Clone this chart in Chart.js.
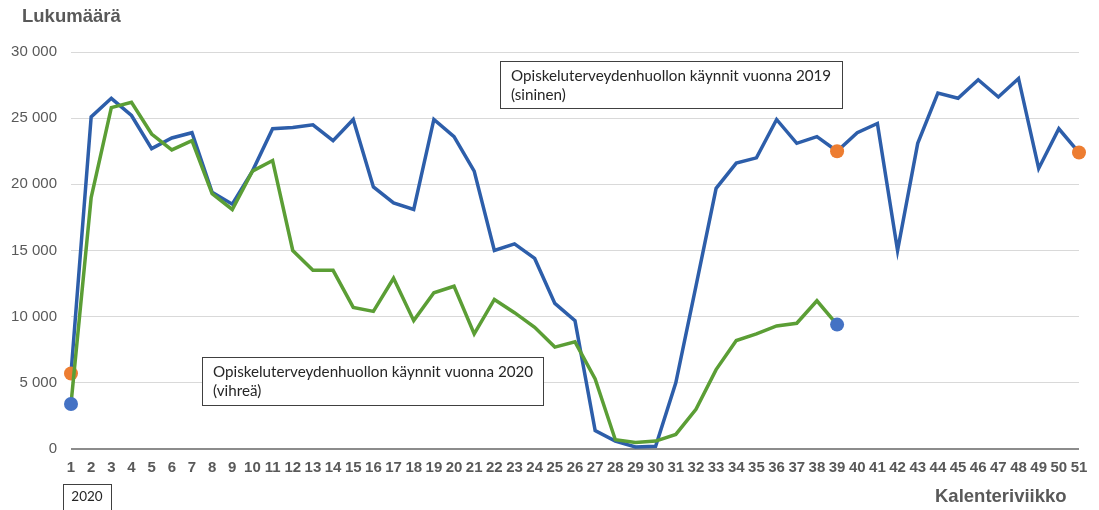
<!DOCTYPE html>
<html>
<head>
<meta charset="utf-8">
<script src="https://cdn.jsdelivr.net/npm/chart.js@4/dist/chart.umd.min.js"></script>
<style>
html,body{margin:0;padding:0;background:#fff;}
#wrap{width:1099px;height:510px;position:relative;}
</style>
</head>
<body>
<div id="wrap"><canvas id="c" width="1099" height="510"></canvas></div>
<script>
const weeks = Array.from({length: 51}, (_, i) => String(i + 1));
const visits2019 = [5700, 25100, 26500, 25200, 22700, 23500, 23900, 19400, 18500, 21000,
  24200, 24300, 24500, 23300, 24900, 19800, 18600, 18100, 24900, 23600,
  21000, 15000, 15500, 14400, 11000, 9700, 1400, 600, 150, 200,
  5000, 12300, 19700, 21600, 22000, 24900, 23100, 23600, 22500, 23900,
  24600, 15000, 23100, 26900, 26500, 27900, 26600, 28000, 21200, 24200, 22400];
const visits2020 = [3400, 19000, 25800, 26200, 23800, 22600, 23300, 19300, 18100, 21000,
  21800, 15000, 13500, 13500, 10700, 10400, 12900, 9700, 11800, 12300,
  8700, 11300, 10300, 9200, 7700, 8100, 5300, 700, 500, 600,
  1100, 3000, 6000, 8200, 8700, 9300, 9500, 11200, 9400];
const marked2019 = [1, 39, 51];
const marked2020 = [1, 39];
const yTicks = [0, 5000, 10000, 15000, 20000, 25000, 30000];
const yTitle = "Lukumäärä";
const xTitle = "Kalenteriviikko";
const yearLabel = "2020";
const note2019 = ["Opiskeluterveydenhuollon käynnit vuonna 2019", "(sininen)"];
const note2020 = ["Opiskeluterveydenhuollon käynnit vuonna 2020", "(vihreä)"];

const GREY = '#595959';
const fmt = v => String(v).replace(/\B(?=(\d{3})+(?!\d))/g, ' ');

function markRadius(list) {
  return ctx => list.includes(ctx.dataIndex + 1) ? 7 : 0;
}

const extras = {
  id: 'extras',
  afterDraw(chart) {
    const c = chart.ctx;
    c.save();
    c.fillStyle = GREY;
    c.textBaseline = 'middle';
    c.font = 'bold 18.5px "Liberation Sans", Arial, sans-serif';
    c.textAlign = 'left';
    c.fillText(yTitle, 22, 17);
    c.font = 'bold 18.5px "Liberation Sans", Arial, sans-serif';
    c.fillText(xTitle, 935, 497);

    function box(x, y, w, h, lines) {
      c.fillStyle = '#fff';
      c.fillRect(x, y, w, h);
      c.strokeStyle = '#404040';
      c.lineWidth = 1;
      c.strokeRect(x + 0.5, y + 0.5, w, h);
      c.fillStyle = '#262626';
      c.font = '15.2px Lato, "Open Sans", sans-serif';
      c.textAlign = 'left';
      lines.forEach((t, i) => c.fillText(t, x + 11, y + 15 + i * 19));
    }
    box(500, 61, 342, 47, note2019);
    box(202, 357, 341, 48, note2020);

    c.strokeStyle = '#404040';
    c.lineWidth = 1;
    c.strokeRect(63.5, 484.5, 48, 30);
    c.fillStyle = '#262626';
    c.font = '13.5px Lato, "Open Sans", sans-serif';
    c.textAlign = 'center';
    c.fillText(yearLabel, 87, 497);
    c.restore();
  }
};

new Chart(document.getElementById('c'), {
  type: 'line',
  data: {
    labels: weeks,
    datasets: [
      {
        label: '2019',
        data: visits2019,
        borderColor: '#2D5EAA',
        borderWidth: 3.5,
        tension: 0,
        pointRadius: markRadius(marked2019),
        pointBackgroundColor: '#ED7D31',
        pointBorderWidth: 0,
        pointHoverRadius: 0,
        order: 2
      },
      {
        label: '2020',
        data: visits2020,
        borderColor: '#5B9E35',
        borderWidth: 3.5,
        tension: 0,
        pointRadius: markRadius(marked2020),
        pointBackgroundColor: '#4472C4',
        pointBorderWidth: 0,
        pointHoverRadius: 0,
        order: 1
      }
    ]
  },
  options: {
    responsive: false,
    animation: false,
    events: [],
    layout: {padding: {left: 0, right: 20, top: 52, bottom: 0}},
    plugins: {legend: {display: false}, tooltip: {enabled: false}},
    scales: {
      x: {
        offset: false,
        grid: {display: false, drawTicks: false},
        border: {display: false},
        ticks: {
          autoSkip: false, maxRotation: 0, minRotation: 0, padding: 10,
          color: GREY,
          font: {family: '"Liberation Sans", Arial, sans-serif', size: 15, weight: 'bold'}
        },
        afterFit(s) { s.height = 61; }
      },
      y: {
        min: 0, max: 30000,
        afterBuildTicks(s) { s.ticks = yTicks.map(v => ({value: v})); },
        grid: {
          drawTicks: false,
          color: ctx => ctx.tick && ctx.tick.value === 0 ? '#8c8c8c' : '#d9d9d9',
          lineWidth: ctx => ctx.tick && ctx.tick.value === 0 ? 2 : 1
        },
        border: {display: false},
        ticks: {
          padding: 14,
          color: GREY,
          font: {family: '"Liberation Sans", Arial, sans-serif', size: 15},
          callback: v => fmt(v)
        },
        afterFit(s) { s.width = 71; }
      }
    }
  },
  plugins: [extras]
});
</script>
</body>
</html>
